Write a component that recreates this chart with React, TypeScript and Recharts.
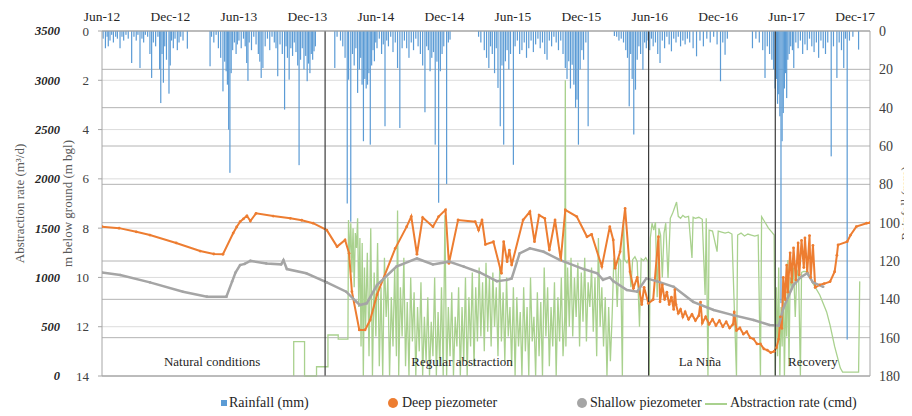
import {
  ComposedChart,
  Bar,
  Line,
  XAxis,
  YAxis,
  CartesianGrid,
  ReferenceLine,
  ReferenceDot,
  Legend,
} from "recharts";

// x values are months since 1 Jun 2012
const monthTicks = [0, 6, 12, 18, 24, 30, 36, 42, 48, 54, 60, 66];
const monthLabels = ["Jun-12", "Dec-12", "Jun-13", "Dec-13", "Jun-14", "Dec-14", "Jun-15", "Dec-15", "Jun-16", "Dec-16", "Jun-17", "Dec-17"];

const depthTicks = [0, 2, 4, 6, 8, 10, 12, 14];
const rateTicks = [0, 500, 1000, 1500, 2000, 2500, 3000, 3500];
const rainTicks = [0, 20, 40, 60, 80, 100, 120, 140, 160, 180];

const periodBounds = [19.55, 47.9, 59.0];
const periodNames = ["Natural conditions", "Regular abstraction", "La Niña", "Recovery"];
const periodLabelAt = [9.65, 31.55, 52.4, 62.3];

// rainfall (mm)
const rainfall: [number, number][] = [
  [0.1, 4], [0.3, 9], [0.45, 3], [0.55, 8], [0.7, 5], [0.85, 2], [1.0, 6], [1.2, 3], [1.35, 4], [1.58, 9], [1.75, 3], [1.9, 5],
  [2.1, 2], [2.3, 4], [2.6, 16.7], [2.8, 3], [3.0, 5], [3.15, 2], [3.33, 19.3], [3.5, 4], [3.65, 6], [3.8, 2], [4.0, 3], [4.2, 12],
  [4.35, 24.5], [4.5, 6], [4.7, 8], [4.9, 3], [5.05, 20], [5.15, 37.6], [5.26, 12], [5.38, 27], [5.5, 8], [5.65, 15], [5.87, 32.7],
  [5.98, 18], [6.1, 5], [6.25, 9], [6.4, 4], [6.6, 10], [6.75, 6], [6.9, 3], [7.1, 5], [7.48, 9.2],
  [9.47, 18.4], [9.6, 3], [9.8, 6], [10.0, 2], [10.2, 9], [10.4, 14], [10.6, 31.5], [10.75, 16], [10.88, 21], [10.99, 28],
  [11.1, 51.5], [11.21, 74], [11.32, 22], [11.45, 10], [11.6, 6], [11.75, 12], [11.86, 7], [12.0, 5], [12.2, 9], [12.4, 4],
  [12.55, 8], [12.68, 16.7], [12.79, 26], [12.9, 6], [13.1, 10], [13.3, 3], [13.5, 7], [13.7, 12], [13.83, 16], [13.95, 24.5],
  [14.1, 19.3], [14.3, 8], [14.5, 4], [14.7, 10], [14.9, 3], [15.1, 6], [15.25, 9], [15.4, 23.6], [15.6, 7], [15.8, 12],
  [16.0, 41], [16.13, 8], [16.25, 14], [16.4, 25.4], [16.55, 9], [16.7, 13], [16.85, 6], [17.0, 11], [17.15, 18], [17.27, 70],
  [17.4, 15], [17.55, 9], [17.7, 20], [17.85, 13], [17.98, 26.2], [18.1, 17], [18.22, 22], [18.34, 12], [18.46, 15], [18.58, 10.6], [18.7, 8],
  [20.4, 19.3], [20.6, 3], [20.9, 5], [21.1, 8], [21.3, 14], [21.49, 90], [21.61, 25.4], [21.8, 99.5], [21.95, 12], [22.1, 18],
  [22.25, 9], [22.4, 32.3], [22.55, 20], [22.67, 14], [22.79, 28], [22.91, 57.5], [23.03, 25], [23.15, 30], [23.27, 28], [23.39, 22],
  [23.51, 59.3], [23.63, 18], [23.75, 10], [23.87, 15.8], [23.99, 6], [24.1, 9], [24.3, 4], [24.5, 12], [24.65, 7], [24.8, 49.7],
  [24.95, 5], [25.1, 8], [25.3, 3], [25.5, 11], [25.7, 6], [25.9, 19.3], [26.1, 50.6], [26.3, 9], [26.5, 5], [26.7, 9], [26.9, 14],
  [27.1, 6], [27.3, 10], [27.5, 4], [27.7, 8], [27.9, 12], [28.1, 18], [28.3, 42.4], [28.45, 8], [28.6, 10], [28.75, 21], [28.9, 14],
  [29.05, 11], [29.2, 59.3], [29.35, 16], [29.5, 89.6], [29.65, 21], [29.8, 12], [29.95, 8], [30.2, 79.8], [30.35, 6], [30.5, 4.5],
  [33.0, 3], [33.2, 6], [33.5, 10], [33.7, 14], [33.9, 19.3], [34.05, 8], [34.2, 12], [34.4, 22], [34.55, 9], [34.7, 29.7],
  [34.9, 49.7], [35.05, 18], [35.2, 59.3], [35.35, 15.8], [35.5, 10], [35.65, 20], [35.8, 12], [36.05, 69.8], [36.2, 8], [36.4, 5],
  [36.6, 12], [36.8, 10], [37.0, 6], [37.2, 14], [37.4, 9], [37.6, 5], [37.8, 11], [38.0, 7], [38.2, 4], [38.4, 9], [38.6, 6],
  [38.8, 12], [39.0, 15], [39.2, 5], [39.4, 8], [39.6, 3], [39.8, 6], [40.0, 10], [40.2, 5], [40.4, 12], [40.6, 19.3], [40.75, 25],
  [40.9, 15.8], [41.05, 30], [41.2, 17.6], [41.35, 28], [41.5, 40], [41.62, 35.8], [41.75, 59.3], [41.9, 20], [42.05, 10],
  [42.2, 15], [42.4, 6], [42.6, 49.7],
  [44.9, 2.6], [45.1, 3], [45.3, 5], [45.5, 4], [45.7, 6], [45.9, 10], [46.05, 14], [46.2, 39.3], [46.33, 12], [46.46, 25],
  [46.6, 54], [46.75, 30.6], [46.9, 15], [47.05, 8], [47.2, 12], [47.4, 20.2], [47.55, 6], [47.7, 9], [47.85, 5], [48.0, 10],
  [48.15, 4], [48.3, 8], [48.5, 6], [48.7, 12], [48.9, 16.7], [49.1, 5], [49.3, 9], [49.5, 3], [49.7, 7], [49.9, 10.6], [50.1, 4],
  [50.3, 6], [50.5, 3], [50.7, 8], [50.9, 5], [51.1, 7], [51.3, 4], [51.5, 6], [51.8, 9], [52.1, 13.2], [52.4, 5], [52.7, 8],
  [53.0, 4], [53.3, 6], [53.6, 3], [53.9, 7], [54.2, 26.2], [54.4, 6], [54.6, 12.4], [54.8, 4],
  [57.0, 9], [57.3, 4], [57.6, 6], [57.9, 10], [58.1, 24.5], [58.3, 8], [58.5, 12], [58.7, 15], [58.85, 20], [58.98, 30], [59.1, 25],
  [59.2, 38], [59.3, 33], [59.4, 44.5], [59.5, 142], [59.6, 57.5], [59.7, 42.8], [59.8, 30], [59.9, 22], [60.0, 35],
  [60.1, 15], [60.22, 12], [60.35, 8], [60.5, 10], [60.62, 19.3], [60.8, 6], [61.0, 9], [61.2, 5], [61.4, 12], [61.6, 7], [61.8, 10],
  [62.0, 4], [62.2, 8], [62.4, 11], [62.6, 6], [62.8, 14], [63.0, 5], [63.2, 9], [63.4, 12], [63.6, 6], [63.9, 65.4], [64.1, 8],
  [64.4, 24.5], [64.6, 6], [64.8, 10], [65.0, 19.3], [65.15, 4], [65.3, 161], [65.5, 5], [65.8, 3], [66.3, 9.7],
];

// deep piezometer (m bgl)
const deepPiezo: [number, number][] = [
  [0, 7.94], [1.5, 8.0], [3.0, 8.15], [4.2, 8.28], [6.5, 8.6], [8.6, 8.93], [9.8, 9.05], [10.6, 9.06], [11.5, 8.2], [11.8, 7.95],
  [12.1, 7.74], [12.4, 7.62], [12.7, 7.5], [13.0, 7.71], [13.5, 7.4], [15.0, 7.51], [16.5, 7.6], [17.5, 7.68], [18.5, 7.8],
  [19.7, 8.08], [20.6, 8.75], [21.3, 8.48], [21.65, 9.02], [21.9, 10.58], [22.55, 12.13], [23.05, 12.13], [23.5, 11.73],
  [24.1, 10.7], [25.7, 8.82], [26.7, 7.94], [27.1, 7.53], [27.6, 9.06], [28.1, 7.57], [29.0, 7.94], [29.5, 7.53], [30.1, 7.26],
  [30.4, 9.43], [31.2, 7.67], [32.7, 7.74], [33.0, 8.08], [33.3, 7.67], [33.6, 8.66], [34.3, 8.55], [35.0, 9.83], [35.2, 8.55],
  [35.5, 9.36], [35.7, 8.89], [35.9, 9.5], [36.9, 7.67], [37.5, 7.33], [37.9, 8.55], [38.3, 7.47], [38.8, 7.6], [39.2, 8.89],
  [39.7, 7.67], [40.2, 9.29], [40.6, 7.26], [41.6, 7.53], [42.5, 8.35], [42.9, 8.25], [43.8, 9.56], [44.5, 7.94], [44.8, 8.48],
  [44.96, 9.63], [45.4, 8.96], [45.84, 7.2], [46.27, 9.77], [46.57, 10.44], [46.9, 10.0], [47.3, 11.1], [47.5, 10.4],
  [47.88, 11.05], [48.3, 10.9], [48.76, 8.35], [48.9, 10.99],
  [49.1, 10.3], [49.3, 10.9], [49.5, 10.6], [49.7, 11.1], [49.9, 10.8], [50.1, 11.3], [50.2, 10.5], [50.3, 11.1], [50.5, 11.45],
  [50.7, 11.3], [50.9, 11.6], [51.1, 11.4], [51.4, 11.7], [51.7, 11.5], [52.0, 11.75], [52.3, 11.55], [52.45, 11.0], [52.6, 11.85],
  [52.9, 11.6], [53.2, 11.9], [53.5, 11.7], [53.8, 11.95], [54.1, 11.75], [54.4, 12.0], [54.7, 11.8], [55.0, 12.05], [55.3, 11.9],
  [55.4, 11.4], [55.6, 12.15], [55.9, 12.05], [56.2, 12.3], [56.5, 12.2], [56.8, 12.45], [57.1, 12.5], [57.4, 12.7], [57.7, 12.7],
  [58.0, 12.9], [58.3, 12.95], [58.6, 13.05], [58.9, 13.0], [59.1, 12.85], [59.3, 12.5], [59.45, 11.6], [59.57, 12.07],
  [59.7, 10.0], [59.85, 10.9], [60.0, 9.5], [60.1, 10.6], [60.3, 9.0], [60.45, 10.2], [60.6, 8.8], [60.8, 10.1], [61.0, 8.6],
  [61.1, 9.9], [61.3, 8.5], [61.5, 9.6], [61.6, 8.4], [61.8, 9.8], [62.0, 8.3], [62.1, 10.0], [62.3, 8.7], [62.5, 10.4],
  [62.9, 10.3], [63.3, 10.25], [63.8, 10.17], [64.2, 9.77], [64.4, 9.1], [64.5, 8.68], [65.3, 8.55], [65.6, 8.28], [66.1, 7.94],
  [67.0, 7.8], [67.3, 7.78],
];

// shallow piezometer (m bgl)
const shallowPiezo: [number, number][] = [
  [0, 9.8], [1.6, 9.9], [4.2, 10.2], [7.1, 10.58], [9.2, 10.78], [10.9, 10.78], [11.4, 10.17], [11.7, 9.8], [12.1, 9.5],
  [12.5, 9.45], [13.0, 9.33], [14.4, 9.43], [15.7, 9.47], [15.9, 9.3], [16.2, 9.66], [17.9, 9.83], [19.7, 10.2], [21.4, 10.58],
  [22.3, 10.99], [22.6, 11.12], [23.2, 11.05], [24.1, 10.31], [25.8, 9.56], [27.6, 9.23], [29.0, 9.47], [30.4, 9.36],
  [31.7, 9.56], [33.1, 9.8], [34.6, 10.15], [35.5, 10.1], [35.9, 10.04], [36.6, 9.02], [37.5, 8.82], [38.7, 8.96], [40.1, 9.29],
  [42.2, 9.66], [43.4, 9.83], [43.9, 10.1], [44.5, 10.0], [44.8, 10.15], [46.0, 10.51], [46.9, 10.58], [47.7, 10.04],
  [48.6, 10.15], [50.1, 10.38], [51.8, 10.99], [53.6, 11.32], [55.3, 11.53], [57.1, 11.73], [58.5, 11.93], [59.3, 11.96],
  [59.7, 11.26], [60.2, 10.71], [60.6, 10.31], [61.2, 10.0], [61.8, 9.83], [62.3, 10.2], [63.2, 10.38],
];

// abstraction rate (m3/d)
const abstraction: [number, number][] = [
  [16.8, 0], [16.8, 348], [17.75, 348], [17.75, 0], [18.8, 0], [18.8, 94], [19.8, 94], [19.8, 416], [20.7, 416], [20.7, 375],
  [21.55, 375], [21.6, 1583], [21.7, 1200], [21.8, 1550], [21.9, 1050], [22.0, 1500], [22.1, 900], [22.2, 1450], [22.3, 1300],
  [22.4, 1600], [22.5, 700], [22.6, 1400], [22.7, 300], [22.8, 1350], [22.9, 0], [23.0, 1100], [23.1, 500], [23.25, 1250],
  [23.4, 200], [23.55, 1500], [23.7, 0], [23.85, 1050], [24.0, 400], [24.15, 1350], [24.3, 100], [24.45, 900], [24.6, 0],
  [24.75, 1200], [24.9, 600], [25.05, 1000], [25.2, 0], [25.35, 800], [25.5, 300], [25.65, 1100], [25.8, 200], [25.9, 1680],
  [26.0, 0], [26.15, 900], [26.3, 400], [26.45, 1200], [26.6, 100], [26.75, 750], [26.9, 0], [27.05, 1000], [27.2, 350],
  [27.35, 850], [27.5, 0], [27.65, 700], [27.8, 250], [27.95, 950], [28.1, 0], [28.25, 600], [28.4, 150], [28.55, 800], [28.7, 0],
  [28.85, 550], [29.0, 200], [29.15, 1000], [29.3, 0], [29.45, 650], [29.6, 100], [29.75, 900], [29.9, 0], [30.05, 1630],
  [30.2, 0], [30.35, 700], [30.5, 200], [30.65, 850], [30.8, 0], [30.95, 600], [31.1, 300], [31.25, 900], [31.4, 0], [31.55, 700],
  [31.7, 150], [31.85, 1000], [32.0, 0], [32.15, 800], [32.3, 300], [32.45, 1050], [32.6, 100], [32.75, 900], [32.9, 350],
  [33.05, 1100], [33.2, 400], [33.35, 950], [33.5, 250], [33.65, 1150], [33.8, 450], [33.95, 1000], [34.1, 300], [34.25, 1050],
  [34.4, 500], [34.55, 900], [34.7, 200], [34.85, 1100], [35.0, 350], [35.15, 850], [35.3, 150], [35.45, 1000], [35.6, 400],
  [35.75, 700], [35.9, 100], [36.05, 900], [36.2, 0], [36.35, 800], [36.5, 300], [36.65, 650], [36.8, 0], [36.95, 900],
  [37.1, 250], [37.25, 700], [37.4, 0], [37.55, 1000], [37.7, 350], [37.85, 600], [38.0, 0], [38.15, 850], [38.3, 200],
  [38.45, 750], [38.6, 0], [38.75, 1100], [38.9, 400], [39.05, 900], [39.2, 100], [39.35, 700], [39.5, 300], [39.65, 950],
  [39.8, 0], [39.95, 800], [40.1, 350], [40.25, 1000], [40.4, 200], [40.55, 600], [40.6, 3000], [40.65, 300], [40.8, 1100],
  [40.95, 500], [41.1, 1200], [41.25, 400], [41.4, 1000], [41.55, 600], [41.7, 1150], [41.85, 300], [42.0, 1050], [42.15, 550],
  [42.3, 1200], [42.45, 350], [42.6, 950], [42.75, 700], [42.9, 1100], [43.05, 450], [43.2, 1000], [43.35, 200], [43.5, 1400],
  [43.65, 500], [43.8, 900], [43.95, 300], [44.1, 800], [44.25, 0], [44.4, 700], [44.55, 150], [44.7, 600], [44.85, 1180],
  [45.0, 1150], [45.15, 700], [45.3, 1200], [45.45, 1170], [45.6, 0], [45.7, 1583], [45.8, 1180], [46.0, 1150], [46.2, 1200],
  [46.35, 900], [46.5, 1180], [46.7, 1210], [46.9, 1160], [47.1, 500], [47.25, 1190], [47.45, 1170], [47.65, 1200], [47.85, 1160],
  [47.95, 0], [48.05, 1400], [48.2, 1550], [48.35, 1480], [48.5, 1560], [48.65, 800], [48.8, 1500], [48.95, 1430], [49.1, 1000],
  [49.25, 1450], [49.4, 1550], [49.6, 994], [49.8, 1600], [50.0, 1650], [50.15, 1700], [50.35, 1765], [50.5, 1620], [50.7, 1600],
  [50.9, 1630], [51.1, 1610], [51.4, 1620], [51.7, 1197], [51.8, 1610], [52.0, 1600], [52.3, 1610], [52.6, 1590], [52.85, 822],
  [52.95, 1600], [53.1, 0], [53.2, 1480], [53.5, 1470], [53.9, 1261], [54.0, 1470], [54.3, 1460], [54.6, 1450], [54.9, 1460],
  [55.2, 1440], [55.6, 0], [55.7, 1430], [56.0, 1450], [56.3, 1420], [56.6, 1440], [56.9, 1430], [57.2, 1420], [57.5, 1430],
  [57.7, 0], [57.8, 1616], [58.1, 1560], [58.4, 1500], [58.7, 1460], [58.9, 1430], [59.0, 0], [59.1, 900], [59.2, 200],
  [59.3, 1100], [59.4, 0], [59.5, 700], [59.6, 300], [59.7, 1000], [59.8, 0], [59.9, 800], [60.0, 400], [60.1, 1177], [60.2, 100],
  [60.3, 1000], [60.45, 900], [60.6, 1100], [60.75, 600], [60.9, 1080], [61.05, 1000], [61.2, 0], [61.3, 1050], [61.5, 1060],
  [61.8, 1058], [62.2, 960], [62.9, 822], [63.5, 650], [63.8, 517], [64.2, 300], [64.7, 80], [64.9, 40], [66.3, 40], [66.4, 960],
];

const rainRows = rainfall.map(([t, mm]) => ({ t, mm }));
const deepRows = deepPiezo.map(([t, d]) => ({ t, d }));
const shallowRows = shallowPiezo.map(([t, d]) => ({ t, d }));
const rateRows = abstraction.map(([t, q]) => ({ t, q }));

const serif = "'Liberation Serif', 'Times New Roman', 'DejaVu Serif', serif";
const axisGrey = "#a6a6a6";

// draws each rain bar as a crisp hairline at the centre of the slot the Bar computed
const RainStick = (props: any) => {
  const { x, y, width, height, fill } = props;
  if (x == null || y == null || !height) return null;
  const cx = x + width / 2;
  const top = Math.min(y, y + height);
  return <rect x={cx - 0.6} y={top} width={1.2} height={Math.abs(height)} fill={fill} />;
};

const LegendBox = () => (
  <div style={{ position: "relative", height: 20, fontFamily: serif, fontSize: 14, color: "#262626", lineHeight: "20px" }}>
    <span style={{ position: "absolute", left: 221, top: 7, width: 6, height: 6, background: "#5b9bd5" }} />
    <span style={{ position: "absolute", left: 229 }}>Rainfall (mm)</span>
    <span style={{ position: "absolute", left: 388, top: 5, width: 10, height: 10, borderRadius: 5, background: "#ed7d31" }} />
    <span style={{ position: "absolute", left: 402 }}>Deep piezometer</span>
    <span style={{ position: "absolute", left: 577, top: 5, width: 10, height: 10, borderRadius: 5, background: "#a5a5a5" }} />
    <span style={{ position: "absolute", left: 590 }}>Shallow piezometer</span>
    <span style={{ position: "absolute", left: 705, top: 10, width: 22, height: 2, background: "#a9d18e" }} />
    <span style={{ position: "absolute", left: 730 }}>Abstraction rate (cmd)</span>
  </div>
);

export default function App() {
  return (
    <div style={{ marginLeft: -8, marginTop: -8, width: 912, height: 416, background: "#fff" }}>
      <ComposedChart width={912} height={416} data={rainRows} margin={{ top: 0, right: 0, bottom: 0, left: 0 }}>
        <CartesianGrid xAxisId="top" yAxisId="a_depth" vertical={false} stroke="#dcdcdc" />
        <CartesianGrid xAxisId="top" yAxisId="rain" vertical={false} stroke="#b4b4b4" />
        <XAxis
          xAxisId="top"
          orientation="top"
          dataKey="t"
          type="number"
          domain={[0, 67.3]}
          allowDataOverflow
          ticks={monthTicks}
          tickFormatter={(v: number) => monthLabels[monthTicks.indexOf(v)] ?? ""}
          height={31}
          tickLine={false}
          tickSize={0}
          tickMargin={10}
          axisLine={{ stroke: axisGrey }}
          tick={{ fontFamily: serif, fontSize: 13.5, fill: "#262626" }}
        />
        <XAxis
          xAxisId="bottom"
          orientation="bottom"
          dataKey="t"
          type="number"
          domain={[0, 67.3]}
          allowDataOverflow
          ticks={monthTicks}
          height={40}
          tick={false}
          tickSize={4}
          tickLine={{ stroke: axisGrey }}
          axisLine={{ stroke: axisGrey }}
        />
        <YAxis
          yAxisId="a_depth"
          orientation="left"
          reversed
          domain={[0, 14]}
          ticks={depthTicks}
          width={40}
          tickSize={4}
          tickMargin={9}
          tickLine={{ stroke: axisGrey }}
          axisLine={{ stroke: axisGrey }}
          tick={{ fontFamily: serif, fontSize: 13, fill: "#404040" }}
          label={{ value: "m below ground (m bgl)", angle: -90, position: "center", dx: -15, fontFamily: serif, fontSize: 13, fill: "#595959" }}
        />
        <YAxis
          yAxisId="b_rate"
          orientation="left"
          domain={[0, 3500]}
          ticks={rateTicks}
          width={62}
          tickSize={0}
          tickMargin={2}
          tickLine={false}
          axisLine={false}
          tick={{ fontFamily: serif, fontSize: 12.5, fontWeight: "bold", fontStyle: "italic", fill: "#262626" }}
          label={{ value: "Abstraction rate (m³/d)", angle: -90, position: "center", dx: -12, fontFamily: serif, fontSize: 13, fill: "#595959" }}
        />
        <YAxis
          yAxisId="rain"
          orientation="right"
          reversed
          domain={[0, 180]}
          ticks={rainTicks}
          width={42}
          tickSize={0}
          tickMargin={9}
          tickLine={false}
          axisLine={{ stroke: axisGrey }}
          tick={{ fontFamily: serif, fontSize: 14, fill: "#404040" }}
          label={{ value: "Rainfall (mm)", angle: -90, position: "center", dx: 14, fontFamily: serif, fontSize: 13, fill: "#595959" }}
        />
        <Bar
          xAxisId="top"
          yAxisId="rain"
          dataKey="mm"
          fill="#5b9bd5"
          barSize={1}
          shape={<RainStick />}
          isAnimationActive={false}
        />
        <Line
          xAxisId="top"
          yAxisId="b_rate"
          data={rateRows}
          dataKey="q"
          type="linear"
          stroke="#a9d18e"
          strokeWidth={1.3}
          dot={false}
          isAnimationActive={false}
        />
        <Line
          xAxisId="top"
          yAxisId="a_depth"
          data={deepRows}
          dataKey="d"
          type="linear"
          stroke="#ed7d31"
          strokeWidth={2}
          dot={{ r: 1.4, fill: "#ed7d31", stroke: "none" }}
          isAnimationActive={false}
        />
        <Line
          xAxisId="top"
          yAxisId="a_depth"
          data={shallowRows}
          dataKey="d"
          type="linear"
          stroke="#a5a5a5"
          strokeWidth={2.5}
          dot={{ r: 1.3, fill: "#a5a5a5", stroke: "none" }}
          isAnimationActive={false}
        />
        {periodBounds.map((x) => (
          <ReferenceLine key={x} xAxisId="top" yAxisId="a_depth" x={x} stroke="#3a3a3a" strokeWidth={1.2} />
        ))}
        {periodNames.map((name, i) => (
          <ReferenceDot
            key={name}
            xAxisId="top"
            yAxisId="a_depth"
            x={periodLabelAt[i]}
            y={13.4}
            r={0}
            fill="none"
            stroke="none"
            label={{ value: name, position: "center", fontFamily: serif, fontSize: 13, fill: "#262626" }}
          />
        ))}
        <Legend
          layout="horizontal"
          verticalAlign="middle"
          align="center"
          content={<LegendBox />}
          wrapperStyle={{ position: "absolute", top: 393, left: 0, width: 912, height: 20 }}
        />
      </ComposedChart>
    </div>
  );
}
